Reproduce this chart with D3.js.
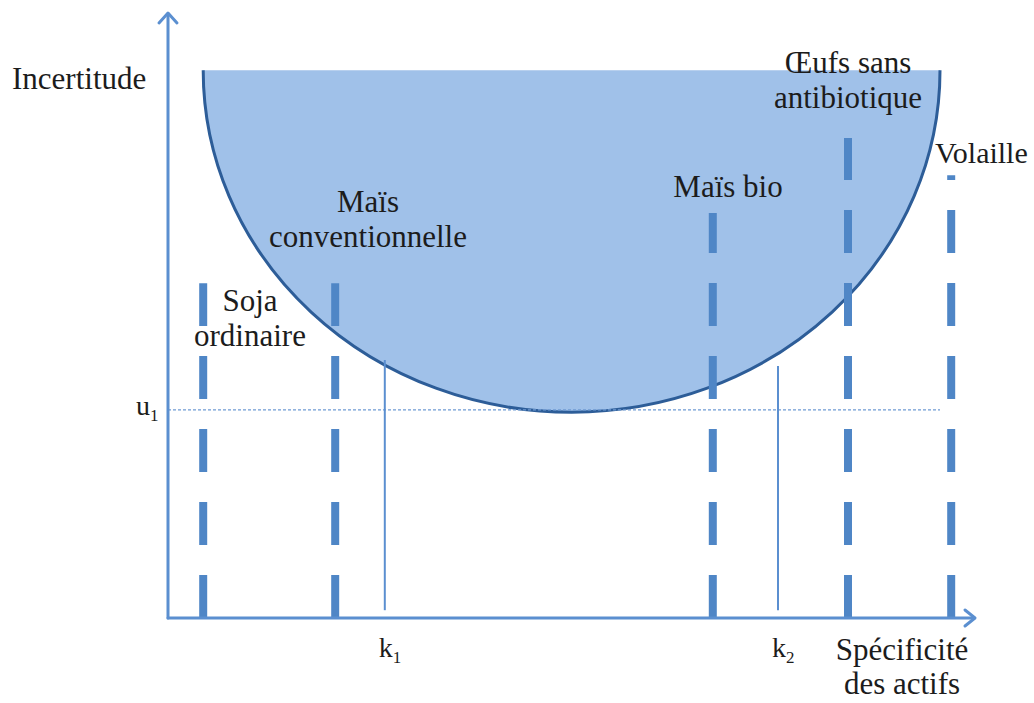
<!DOCTYPE html>
<html>
<head>
<meta charset="utf-8">
<script src="https://cdn.jsdelivr.net/npm/d3@7"></script>
<style>
  html, body { margin: 0; padding: 0; background: #fff; }
</style>
</head>
<body>
<svg id="chart" width="1034" height="703"></svg>
<script>
// ---- Data (conceptual units 0–100) ----
const products = ["Soja ordinaire", "Maïs conventionnelle", "Maïs bio", "Œufs sans antibiotique", "Volaille"];
const specificity = [4.4, 20.9, 68.1, 85.0, 97.9];
const uncertainty = [55.8, 55.8, 67.5, 80.0, 73.8];
const thresholdsK = ["k1", "k2"];
const thresholdKValues = [27.1, 76.25];
const thresholdKTops = [43.0, 42.0];
const thresholdU = 34.7;
// Zone (half-ellipse) bounds in data units
const zoneLeft = 4.4, zoneRight = 96.5, zoneTop = 91.3, zoneBottom = 34.3;

const FONT = "Liberation Serif";
const svg = d3.select("#chart");
const x = d3.scaleLinear().domain([0, 100]).range([168, 968]);
const y = d3.scaleLinear().domain([0, 100]).range([618, 18]);

const axisColor = "#5b8fd0";
const barColor = "#4f86c6";

// ---- Zone: half ellipse ----
const xl = x(zoneLeft), xr = x(zoneRight), yt = y(zoneTop), yb = y(zoneBottom);
const rx = (xr - xl) / 2, ry = yb - yt;
svg.append("path")
  .attr("d", `M${xl},${yt} A${rx},${ry} 0 0 0 ${xr},${yt} Z`)
  .attr("fill", "#a0c1e9");
svg.append("path")
  .attr("d", `M${xl},${yt} A${rx},${ry} 0 0 0 ${xr},${yt}`)
  .attr("fill", "none")
  .attr("stroke", "#2d5d98")
  .attr("stroke-width", 3);

// ---- u1 dotted line ----
svg.append("line")
  .attr("x1", x(0)).attr("x2", x(96.5))
  .attr("y1", y(thresholdU)).attr("y2", y(thresholdU))
  .attr("stroke", "#6f9bd3").attr("stroke-width", 1.3)
  .attr("stroke-dasharray", "3 2");

// ---- k thresholds ----
svg.selectAll("line.k").data(thresholdKValues).join("line")
  .attr("class", "k")
  .attr("x1", d => x(d)).attr("x2", d => x(d))
  .attr("y1", (d, i) => y(thresholdKTops[i])).attr("y2", y(1.3))
  .attr("stroke", axisColor).attr("stroke-width", 2);

// ---- dashed product bars (drawn from the axis upward) ----
svg.selectAll("line.bar").data(products).join("line")
  .attr("class", "bar")
  .attr("x1", (d, i) => x(specificity[i])).attr("x2", (d, i) => x(specificity[i]))
  .attr("y1", y(0)).attr("y2", (d, i) => y(uncertainty[i]))
  .attr("stroke", barColor).attr("stroke-width", 8)
  .attr("stroke-dasharray", "43 30");

// ---- axes with arrows ----
const ax = svg.append("g").attr("stroke", axisColor).attr("stroke-width", 3)
  .attr("fill", "none").attr("stroke-linecap", "round").attr("stroke-linejoin", "round");
ax.append("path").attr("d", `M${x(0)},${y(0)} V${14}`);
ax.append("path").attr("d", `M${x(0) - 9},${23} L${x(0)},${13} L${x(0) + 9},${23}`);
ax.append("path").attr("d", `M${x(0)},${y(0)} H${974}`);
ax.append("path").attr("d", `M${965},${y(0) - 8} L${975},${y(0)} L${965},${y(0) + 8}`);

// ---- texts (one <text> per line) ----
function multi(lines, cx, baseline, anchor, size, lh) {
  lines.forEach((l, i) => {
    svg.append("text")
      .attr("font-family", FONT)
      .attr("font-size", size || 31)
      .attr("fill", "#1c1c1c")
      .attr("text-anchor", anchor || "middle")
      .attr("x", cx).attr("y", baseline + i * (lh || 35))
      .text(l);
  });
}
multi(["Incertitude"], 12, 89, "start");
multi(["Soja", "ordinaire"], 250, 311);
multi(["Maïs", "conventionnelle"], 368, 212);
multi(["Maïs bio"], 728, 197);
multi(["Œufs sans", "antibiotique"], 848, 73);
multi(["Volaille"], 935, 163, "start", 30);
multi(["Spécificité", "des actifs"], 902, 660, "middle", 31, 34);

function subLabel(main, sub, px, baseline) {
  const t = svg.append("text").attr("font-family", FONT).attr("fill", "#1c1c1c")
    .attr("font-size", 28).attr("x", px).attr("y", baseline);
  t.append("tspan").text(main);
  t.append("tspan").attr("font-size", 17).attr("dy", 6).text(sub);
}
subLabel("u", "1", 136, 415);
thresholdKValues.forEach((v, i) => subLabel("k", thresholdsK[i].slice(1), x(v) - 6, 657));
</script>
</body>
</html>
